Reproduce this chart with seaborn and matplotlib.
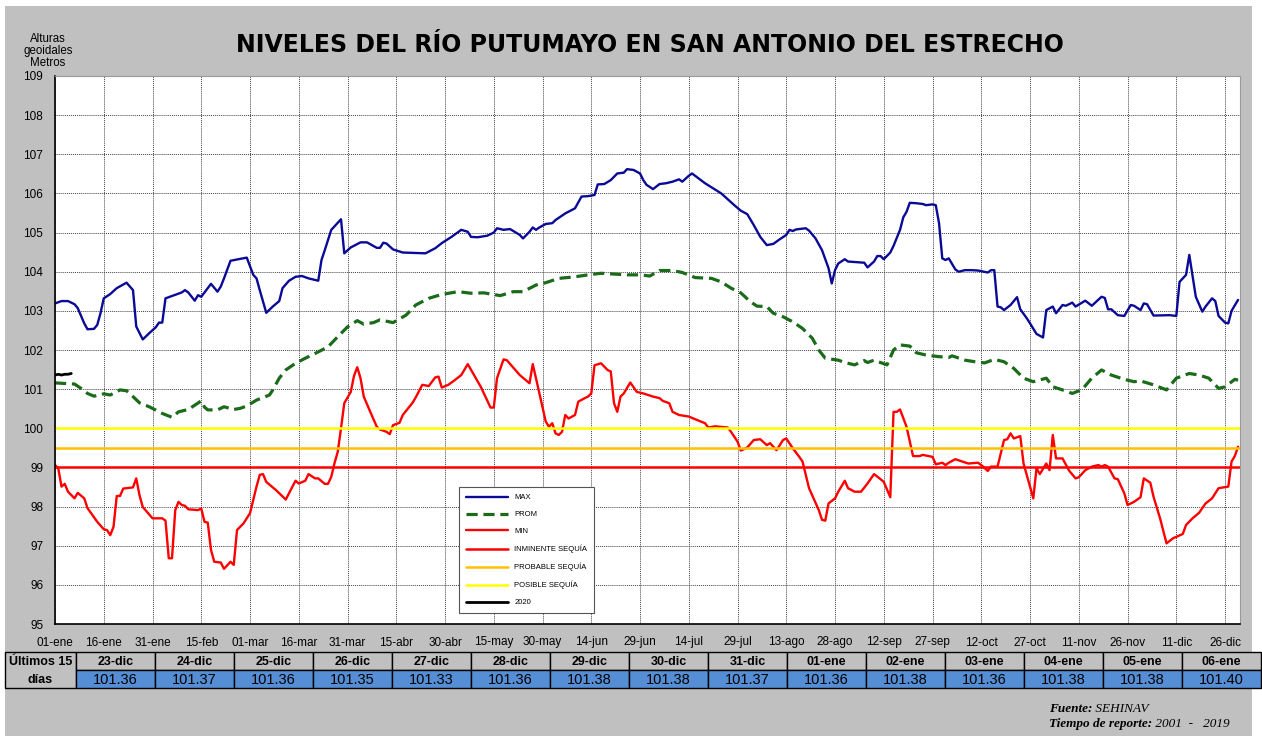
import numpy as np
import pandas as pd
import seaborn as sns
import matplotlib.pyplot as plt
from matplotlib.patches import Rectangle

sns.set_style("white")
plt.rcParams['font.family'] = ['Liberation Sans', 'DejaVu Sans']
plt.rcParams['text.color'] = 'black'
plt.rcParams['xtick.color'] = 'black'
plt.rcParams['ytick.color'] = 'black'

# daily levels (day of year, metres)
max_days = [0, 2, 4, 6, 7, 9, 10, 12, 13, 14, 15, 17, 19, 22, 24, 25, 27, 29, 31, 32, 33, 34, 36, 39, 40,
            41, 43, 44, 45, 48, 50, 51, 52, 54, 59, 61, 62, 63, 65, 67, 69, 70, 72, 74, 76, 78, 81, 82, 83,
            84, 85, 87, 88, 89, 91, 94, 96, 99, 100, 101, 102, 104, 107, 114, 117, 119, 122, 125, 127, 128,
            130, 133, 135, 136, 138, 140, 143, 144, 146, 147, 148, 149, 151, 153, 154, 157, 160, 162, 164,
            166, 167, 169, 171, 173, 175, 176, 178, 180, 181, 182, 184, 186, 188, 190, 192, 193, 195, 196,
            200, 205, 209, 211, 213, 215, 217, 219, 221, 223, 225, 226, 227, 228, 231, 232, 234, 236, 238,
            239, 240, 241, 243, 244, 249, 250, 252, 253, 254, 255, 257, 258, 260, 261, 262, 263, 265, 267,
            268, 270, 271, 272, 273, 274, 275, 277, 278, 280, 282, 284, 287, 288, 289, 290, 291, 292, 294,
            296, 297, 299, 300, 302, 304, 305, 307, 308, 310, 311, 313, 314, 317, 319, 322, 323, 324, 325,
            327, 329, 331, 332, 334, 335, 336, 338, 343, 345, 346, 348, 349, 351, 353, 354, 356, 357, 358,
            360, 361, 362, 364]
max_vals = [103.19, 103.25, 103.25, 103.17, 103.07, 102.68, 102.53, 102.54, 102.64, 102.94, 103.32, 103.43,
            103.58, 103.72, 103.53, 102.60, 102.27, 102.43, 102.58, 102.70, 102.70, 103.32, 103.38, 103.47,
            103.53, 103.47, 103.26, 103.40, 103.36, 103.69, 103.49, 103.62, 103.83, 104.28, 104.36, 103.92,
            103.83, 103.53, 102.95, 103.11, 103.25, 103.58, 103.77, 103.87, 103.89, 103.83, 103.77, 104.30,
            104.55, 104.81, 105.07, 105.25, 105.34, 104.47, 104.62, 104.75, 104.75, 104.61, 104.61, 104.74,
            104.72, 104.57, 104.49, 104.47, 104.60, 104.73, 104.89, 105.07, 105.02, 104.89, 104.88, 104.92,
            105.00, 105.11, 105.07, 105.09, 104.94, 104.85, 105.02, 105.13, 105.07, 105.13, 105.22, 105.24,
            105.32, 105.49, 105.62, 105.92, 105.93, 105.96, 106.23, 106.24, 106.34, 106.51, 106.53, 106.62,
            106.60, 106.51, 106.34, 106.22, 106.11, 106.24, 106.26, 106.30, 106.36, 106.30, 106.45, 106.51,
            106.26, 106.00, 105.70, 105.56, 105.47, 105.19, 104.89, 104.68, 104.71, 104.83, 104.94, 105.07,
            105.04, 105.08, 105.11, 105.05, 104.85, 104.55, 104.09, 103.70, 104.04, 104.21, 104.32, 104.26,
            104.23, 104.11, 104.26, 104.40, 104.40, 104.32, 104.49, 104.66, 105.07, 105.39, 105.53, 105.76,
            105.75, 105.73, 105.70, 105.72, 105.70, 105.24, 104.34, 104.30, 104.34, 104.06, 104.00, 104.04,
            104.04, 104.03, 103.98, 104.04, 104.04, 103.11, 103.09, 103.02, 103.15, 103.35, 103.04, 102.81,
            102.68, 102.41, 102.32, 103.02, 103.11, 102.94, 103.15, 103.13, 103.21, 103.11, 103.26, 103.13,
            103.36, 103.33, 103.04, 103.04, 102.89, 102.87, 103.15, 103.13, 103.02, 103.19, 103.17, 102.88,
            102.89, 102.87, 103.74, 103.92, 104.43, 103.36, 102.98, 103.11, 103.32, 103.25, 102.87, 102.70,
            102.68, 103.00, 103.28]

prom_days = [0, 6, 8, 10, 12, 15, 17, 20, 22, 24, 26, 29, 33, 36, 38, 41, 43, 45, 46, 47, 50, 52, 55, 57,
             59, 62, 66, 67, 69, 71, 74, 77, 80, 84, 87, 90, 93, 95, 98, 100, 104, 108, 111, 115, 119, 124,
             128, 132, 134, 137, 141, 144, 148, 151, 155, 160, 164, 168, 172, 176, 180, 183, 186, 190, 193,
             197, 202, 205, 208, 211, 214, 216, 219, 221, 224, 227, 230, 233, 235, 237, 241, 243, 246, 249,
             250, 252, 256, 258, 260, 263, 265, 268, 272, 275, 276, 280, 283, 286, 289, 292, 295, 298, 301,
             305, 307, 310, 313, 316, 319, 322, 325, 329, 332, 334, 338, 342, 345, 349, 352, 355, 358, 360,
             363, 364]
prom_vals = [101.16, 101.13, 101.02, 100.89, 100.82, 100.88, 100.85, 100.98, 100.96, 100.81, 100.65, 100.55,
             100.38, 100.28, 100.42, 100.48, 100.59, 100.70, 100.54, 100.47, 100.47, 100.55, 100.48, 100.51,
             100.57, 100.72, 100.85, 100.98, 101.28, 101.49, 101.66, 101.79, 101.91, 102.08, 102.34, 102.59,
             102.75, 102.66, 102.70, 102.77, 102.70, 102.89, 103.15, 103.32, 103.42, 103.49, 103.45, 103.46,
             103.43, 103.39, 103.49, 103.49, 103.66, 103.72, 103.83, 103.87, 103.92, 103.96, 103.94, 103.92,
             103.92, 103.89, 104.03, 104.03, 103.98, 103.85, 103.83, 103.74, 103.58, 103.46, 103.23, 103.12,
             103.11, 102.94, 102.85, 102.72, 102.55, 102.30, 102.00, 101.79, 101.74, 101.68, 101.62, 101.73,
             101.68, 101.74, 101.62, 102.00, 102.13, 102.10, 101.93, 101.87, 101.83, 101.81, 101.85, 101.74,
             101.70, 101.67, 101.76, 101.70, 101.53, 101.28, 101.19, 101.28, 101.06, 100.98, 100.89, 100.99,
             101.28, 101.49, 101.36, 101.25, 101.19, 101.21, 101.11, 100.98, 101.28, 101.40, 101.36, 101.28,
             101.02, 101.06, 101.25, 101.23]

min_days = [0, 1, 2, 3, 4, 6, 7, 9, 10, 13, 15, 16, 17, 18, 19, 20, 21, 24, 25, 26, 27, 30, 33, 34, 35, 36,
            37, 38, 39, 40, 41, 44, 45, 46, 47, 48, 49, 51, 52, 54, 55, 56, 58, 60, 62, 63, 64, 65, 68, 71,
            72, 74, 75, 77, 78, 80, 81, 83, 84, 85, 86, 87, 88, 89, 91, 92, 93, 94, 95, 97, 99, 100, 102,
            103, 104, 106, 107, 110, 111, 113, 115, 117, 118, 119, 121, 123, 125, 127, 131, 134, 135, 136,
            138, 139, 143, 146, 147, 151, 152, 153, 154, 155, 156, 157, 158, 160, 161, 163, 164, 165, 166,
            168, 170, 171, 172, 173, 174, 175, 177, 179, 181, 184, 186, 187, 189, 190, 192, 195, 197, 200,
            201, 203, 207, 208, 210, 211, 213, 215, 217, 219, 220, 222, 224, 225, 227, 229, 230, 232, 235,
            236, 237, 238, 240, 241, 243, 244, 246, 248, 250, 252, 254, 255, 257, 258, 259, 260, 262, 264,
            266, 267, 270, 271, 273, 274, 275, 277, 281, 284, 285, 287, 288, 290, 292, 293, 294, 295, 297,
            298, 301, 302, 303, 305, 306, 307, 308, 310, 312, 314, 315, 317, 319, 321, 322, 323, 324, 326,
            327, 329, 330, 332, 334, 335, 337, 338, 340, 342, 344, 347, 348, 350, 352, 354, 356, 358, 361,
            362, 363, 364]
min_vals = [99.06, 98.98, 98.51, 98.58, 98.38, 98.21, 98.35, 98.21, 97.96, 97.61, 97.42, 97.40, 97.27, 97.48,
            98.27, 98.27, 98.46, 98.49, 98.72, 98.29, 97.99, 97.70, 97.70, 97.64, 96.68, 96.68, 97.91, 98.12,
            98.04, 98.02, 97.93, 97.91, 97.95, 97.61, 97.59, 96.89, 96.59, 96.57, 96.41, 96.59, 96.51, 97.40,
            97.57, 97.83, 98.51, 98.81, 98.83, 98.63, 98.42, 98.18, 98.34, 98.66, 98.59, 98.66, 98.83, 98.72,
            98.72, 98.58, 98.58, 98.76, 99.11, 99.40, 100.00, 100.64, 100.93, 101.34, 101.56, 101.28, 100.81,
            100.42, 100.04, 99.97, 99.91, 99.85, 100.08, 100.14, 100.34, 100.65, 100.79, 101.11, 101.08,
            101.30, 101.32, 101.04, 101.11, 101.23, 101.36, 101.64, 101.06, 100.53, 100.53, 101.28, 101.76,
            101.74, 101.36, 101.15, 101.64, 100.17, 100.04, 100.13, 99.87, 99.83, 99.91, 100.34, 100.25,
            100.34, 100.68, 100.77, 100.81, 100.89, 101.61, 101.66, 101.49, 101.45, 100.64, 100.42, 100.81,
            100.89, 101.17, 100.93, 100.89, 100.81, 100.77, 100.70, 100.64, 100.42, 100.34, 100.30, 100.23,
            100.13, 100.02, 100.05, 100.02, 99.91, 99.66, 99.43, 99.51, 99.70, 99.72, 99.57, 99.62, 99.44,
            99.70, 99.74, 99.49, 99.27, 99.15, 98.47, 97.91, 97.66, 97.64, 98.08, 98.21, 98.38, 98.66, 98.47,
            98.38, 98.38, 98.59, 98.83, 98.70, 98.63, 98.24, 100.42, 100.42, 100.48, 100.04, 99.29, 99.29,
            99.32, 99.27, 99.08, 99.12, 99.06, 99.12, 99.21, 99.10, 99.12, 99.06, 98.91, 99.02, 99.02, 99.70,
            99.72, 99.87, 99.74, 99.80, 99.10, 98.21, 98.98, 98.83, 99.10, 98.93, 99.83, 99.23, 99.23, 98.92,
            98.72, 98.75, 98.93, 99.02, 99.06, 99.02, 99.06, 99.02, 98.72, 98.70, 98.34, 98.04, 98.12, 98.24,
            98.72, 98.61, 98.25, 97.70, 97.06, 97.19, 97.30, 97.53, 97.70, 97.84, 98.08, 98.21, 98.47, 98.51,
            99.15, 99.29, 99.53]

y2020_days = [0, 1, 2, 3, 4, 5]
y2020_vals = [101.36, 101.38, 101.36, 101.38, 101.38, 101.40]

inminente = 99.0
probable = 99.5
posible = 100.0

tick_days = list(range(0, 361, 15))
tick_labels = ['01-ene', '16-ene', '31-ene', '15-feb', '01-mar', '16-mar', '31-mar', '15-abr', '30-abr',
               '15-may', '30-may', '14-jun', '29-jun', '14-jul', '29-jul', '13-ago', '28-ago', '12-sep',
               '27-sep', '12-oct', '27-oct', '11-nov', '26-nov', '11-dic', '26-dic']

last_dates = ['23-dic', '24-dic', '25-dic', '26-dic', '27-dic', '28-dic', '29-dic', '30-dic', '31-dic',
              '01-ene', '02-ene', '03-ene', '04-ene', '05-ene', '06-ene']
last_vals = [101.36, 101.37, 101.36, 101.35, 101.33, 101.36, 101.38, 101.38, 101.37, 101.36, 101.38,
             101.36, 101.38, 101.38, 101.40]

W, H = 1262, 736
fig = plt.figure(figsize=(W / 100, H / 100), dpi=100)
fig.patch.set_facecolor('white')

# background layer in pixel coordinates (gray panel, table, footer)
bg = fig.add_axes([0, 0, 1, 1])
bg.set_xlim(0, W)
bg.set_ylim(H, 0)
bg.axis('off')
bg.add_patch(Rectangle((5, 6), 1247, 730, facecolor='#c0c0c0', edgecolor='none'))

bg.text(650, 45, 'NIVELES DEL RÍO PUTUMAYO EN SAN ANTONIO DEL ESTRECHO', ha='center', va='center',
        fontsize=17, fontweight='bold', family=['DejaVu Sans'], color='black')
bg.text(48, 51, 'Alturas\ngeoidales\nMetros', ha='center', va='center', fontsize=8.3, linespacing=1.0)

# table of last 15 days
x0, c0, cw = 5, 76, 79
r0, rh = 652, 18
bg.add_patch(Rectangle((x0, r0), c0 - x0, 2 * rh, facecolor='#c0c0c0', edgecolor='black', lw=1.0))
bg.text((x0 + c0) / 2, r0 + rh / 2 + 1, 'Últimos 15', ha='center', va='center', fontsize=9, fontweight='bold')
bg.text((x0 + c0) / 2, r0 + 1.5 * rh + 1, 'días', ha='center', va='center', fontsize=9, fontweight='bold')
for i, (d, v) in enumerate(zip(last_dates, last_vals)):
    cx = c0 + i * cw
    bg.add_patch(Rectangle((cx, r0), cw, rh, facecolor='#c0c0c0', edgecolor='black', lw=1.0))
    bg.add_patch(Rectangle((cx, r0 + rh), cw, rh, facecolor='#558ed5', edgecolor='black', lw=1.0))
    bg.text(cx + cw / 2, r0 + rh / 2 + 1, d, ha='center', va='center', fontsize=9, fontweight='bold')
    bg.text(cx + cw / 2, r0 + 1.5 * rh + 1, f'{v:.2f}', ha='center', va='center', fontsize=10.5)

# footer
serif = ['Liberation Serif', 'DejaVu Serif']
fig.canvas.draw()
rend = fig.canvas.get_renderer()
for yy, a, b in [(709, 'Fuente:', ' SEHINAV'), (724, 'Tiempo de reporte:', ' 2001  -   2019')]:
    t = bg.text(1049, yy, a, ha='left', va='center', fontsize=9.5, family=serif, style='italic',
                fontweight='bold')
    bb = t.get_window_extent(rend)
    bg.text(bb.x1, H - yy, b, ha='left', va='center', fontsize=9.5, family=serif, style='italic',
            transform=None)

# main chart
ax = fig.add_axes([55 / W, 1 - 624 / H, 1185 / W, 548 / H])
ax.set_facecolor('white')
sns.lineplot(x=max_days, y=max_vals, ax=ax, color='#0a0a96', lw=1.7, label='MAX', estimator=None)
sns.lineplot(x=prom_days, y=prom_vals, ax=ax, color='#1b6b1b', lw=2.3, linestyle=(0, (3.5, 1.8)),
             label='PROM', estimator=None)
sns.lineplot(x=min_days, y=min_vals, ax=ax, color='#ff0000', lw=1.7, label='MIN', estimator=None)
ax.axhline(inminente, color='#ff0000', lw=1.8, label='INMINENTE SEQUÍA')
ax.axhline(probable, color='#ffc000', lw=1.8, label='PROBABLE SEQUÍA')
ax.axhline(posible, color='#ffff00', lw=1.8, label='POSIBLE SEQUÍA')
sns.lineplot(x=y2020_days, y=y2020_vals, ax=ax, color='black', lw=2.0, label='2020', estimator=None)

ax.set_xlim(0, 364.6)
ax.set_ylim(95, 109)
ax.set_yticks(range(95, 110))
ax.set_xticks(tick_days)
ax.set_xticklabels(tick_labels)
ax.tick_params(axis='both', labelsize=8.5, direction='out', length=5, width=0.8, colors='black')
ax.tick_params(axis='x', pad=4)
ax.grid(True, color='#444444', linestyle=(0, (1, 1)), lw=0.7)
ax.set_xlabel('')
ax.set_ylabel('')
for s in ['top', 'right']:
    ax.spines[s].set_color('#9a9a9a')
    ax.spines[s].set_linewidth(0.8)
for s in ['left', 'bottom']:
    ax.spines[s].set_color('black')
    ax.spines[s].set_linewidth(1.2)

leg = ax.legend(loc='lower left', bbox_to_anchor=(0.338, 0.013), fontsize=5.5, frameon=True,
                fancybox=False, edgecolor='#555555', handlelength=5.5, labelspacing=1.25,
                borderpad=0.9, handletextpad=0.8, framealpha=1)
leg.get_frame().set_linewidth(0.8)

fig.savefig('out.png', dpi=100)
